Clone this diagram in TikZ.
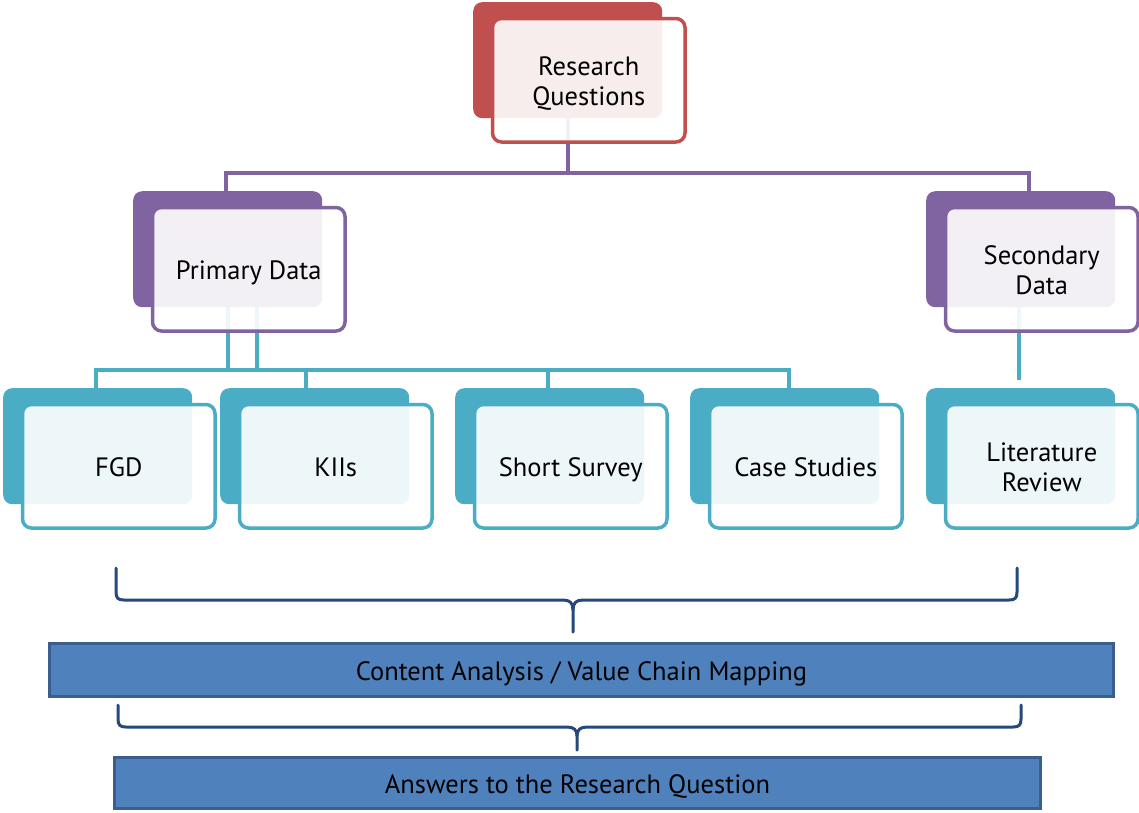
\documentclass[tikz,border=0pt]{standalone}
\usepackage{fontspec}
\setmainfont{PT Sans}
\usetikzlibrary{calc}
\definecolor{cRed}{HTML}{C0504D}
\definecolor{cPurple}{HTML}{8064A2}
\definecolor{cTeal}{HTML}{4BACC6}
\definecolor{cBar}{HTML}{4F81BD}
\definecolor{cBarEdge}{HTML}{3A5F8E}
\definecolor{cBrace}{HTML}{24497A}
% struts that set the label baseline slightly below the card centre
\newcommand\topstrut{\rule{0pt}{29pt}}
\newcommand\botstrut{\rule[-9pt]{0pt}{9pt}}
\tikzset{
  backbox/.style={fill=#1, draw=none, rounded corners=9pt, minimum width=189pt, minimum height=116pt, inner sep=0pt},
  frontbox/.style={draw=#1, line width=3.5pt, fill=white, fill opacity=0.9, text opacity=1, rounded corners=9pt,
                   minimum width=192.5pt, minimum height=123.5pt, inner sep=0pt, align=center,
                   font=\fontsize{26.5}{30}\selectfont},
  conn/.style={draw=#1, line width=4pt},
  bar/.style={fill=cBar, draw=cBarEdge, line width=3pt, inner sep=0pt, font=\fontsize{26.5}{30}\selectfont},
  bracket/.style={draw=cBrace, line width=3pt, line cap=round}
}
\begin{document}
\begin{tikzpicture}[x=1pt, y=-1pt]
\useasboundingbox (0,0) rectangle (1139,812);

% back plates (anchored at their top-left corners)
\node[backbox=cRed,    anchor=north west] (rqb) at (473,2) {};
\node[backbox=cPurple, anchor=north west] (pdb) at (133,191) {};
\node[backbox=cPurple, anchor=north west] (sdb) at (926,191) {};
\node[backbox=cTeal,   anchor=north west] (fgdb) at (3,388) {};
\node[backbox=cTeal,   anchor=north west] (kiib) at (220,388) {};
\node[backbox=cTeal,   anchor=north west] (ssb) at (455,388) {};
\node[backbox=cTeal,   anchor=north west] (csb) at (690,388) {};
\node[backbox=cTeal,   anchor=north west] (lrb) at (926,388) {};

% connectors, kept under the translucent front cards
\draw[conn=cPurple] (rqb.south) -- ++(0,55) coordinate (pbus);
\draw[conn=cPurple] ($(pdb.north)+(-1.5,0)$) |- (pbus);
\draw[conn=cPurple] ($(sdb.north)+(8.5,0)$) |- (pbus);

\coordinate (tbus) at (0,370);
\draw[conn=cTeal] (pdb.south) -- (pdb.south |- tbus);
\draw[conn=cTeal] ($(pdb.south)+(29,0)$) -- ($(pdb.south |- tbus)+(29,0)$);
\draw[conn=cTeal] ($(fgdb.north)+(-1.5,0)$) |- ($(csb.north |- tbus)+(4.5,0)$) -- ($(csb.north)+(4.5,0)$);
\draw[conn=cTeal] ($(kiib.north)+(-8.5,0)$) -- ($(kiib.north |- tbus)+(-8.5,0)$);
\draw[conn=cTeal] ($(ssb.north)+(-1.5,0)$) -- ($(ssb.north |- tbus)+(-1.5,0)$);
\draw[conn=cTeal] ($(sdb.south)+(-1.5,0)$) -- ($(lrb.north)+(-1.5,-8)$);

% front cards with the labels
\node[frontbox=cRed]    (rq)  at ($(rqb.north west)+(115.75,78.25)$) {\topstrut Research\\Questions\botstrut};
\node[frontbox=cPurple] (pd)  at ($(pdb.north west)+(115.75,78.25)$) {\topstrut Primary Data\botstrut};
\node[frontbox=cPurple] (sd)  at ($(sdb.north west)+(115.75,78.25)$) {\topstrut Secondary\\Data\botstrut};
\node[frontbox=cTeal]   (fgd) at ($(fgdb.north west)+(115.75,78.25)$) {\topstrut FGD\botstrut};
\node[frontbox=cTeal]   (kii) at ($(kiib.north west)+(115.75,78.25)$) {\topstrut KIIs\botstrut};
\node[frontbox=cTeal]   (ss)  at ($(ssb.north west)+(115.75,78.25)$) {\topstrut Short Survey\botstrut};
\node[frontbox=cTeal]   (cs)  at ($(csb.north west)+(115.75,78.25)$) {\topstrut Case Studies\botstrut};
\node[frontbox=cTeal]   (lr)  at ($(lrb.north west)+(115.75,78.25)$) {\topstrut Literature\\Review\botstrut};

% synthesis bars
\node[bar, minimum width=1064pt, minimum height=53pt] (ca) at (581.5,670) {\topstrut Content Analysis / Value Chain Mapping\botstrut};
\node[bar, minimum width=926pt, minimum height=51pt] (ans) at (577.5,783) {\topstrut Answers to the Research Question\botstrut};

% brackets gathering the sources
\draw[bracket] (116,568) -- (116,592) .. controls (116,598) and (118,600) .. (124,600) -- (563,600)
  .. controls (570,600) and (573,603) .. (573,610) -- (573,632);
\draw[bracket] (1017,568) -- (1017,592) .. controls (1017,598) and (1015,600) .. (1009,600) -- (583,600)
  .. controls (576,600) and (573,603) .. (573,610);
\draw[bracket] (118,705) -- (118,719) .. controls (118,725) and (120,727) .. (126,727) -- (567,727)
  .. controls (574,727) and (577,730) .. (577,736) -- (577,750);
\draw[bracket] (1021,705) -- (1021,719) .. controls (1021,725) and (1019,727) .. (1013,727) -- (587,727)
  .. controls (580,727) and (577,730) .. (577,736);
\end{tikzpicture}
\end{document}
